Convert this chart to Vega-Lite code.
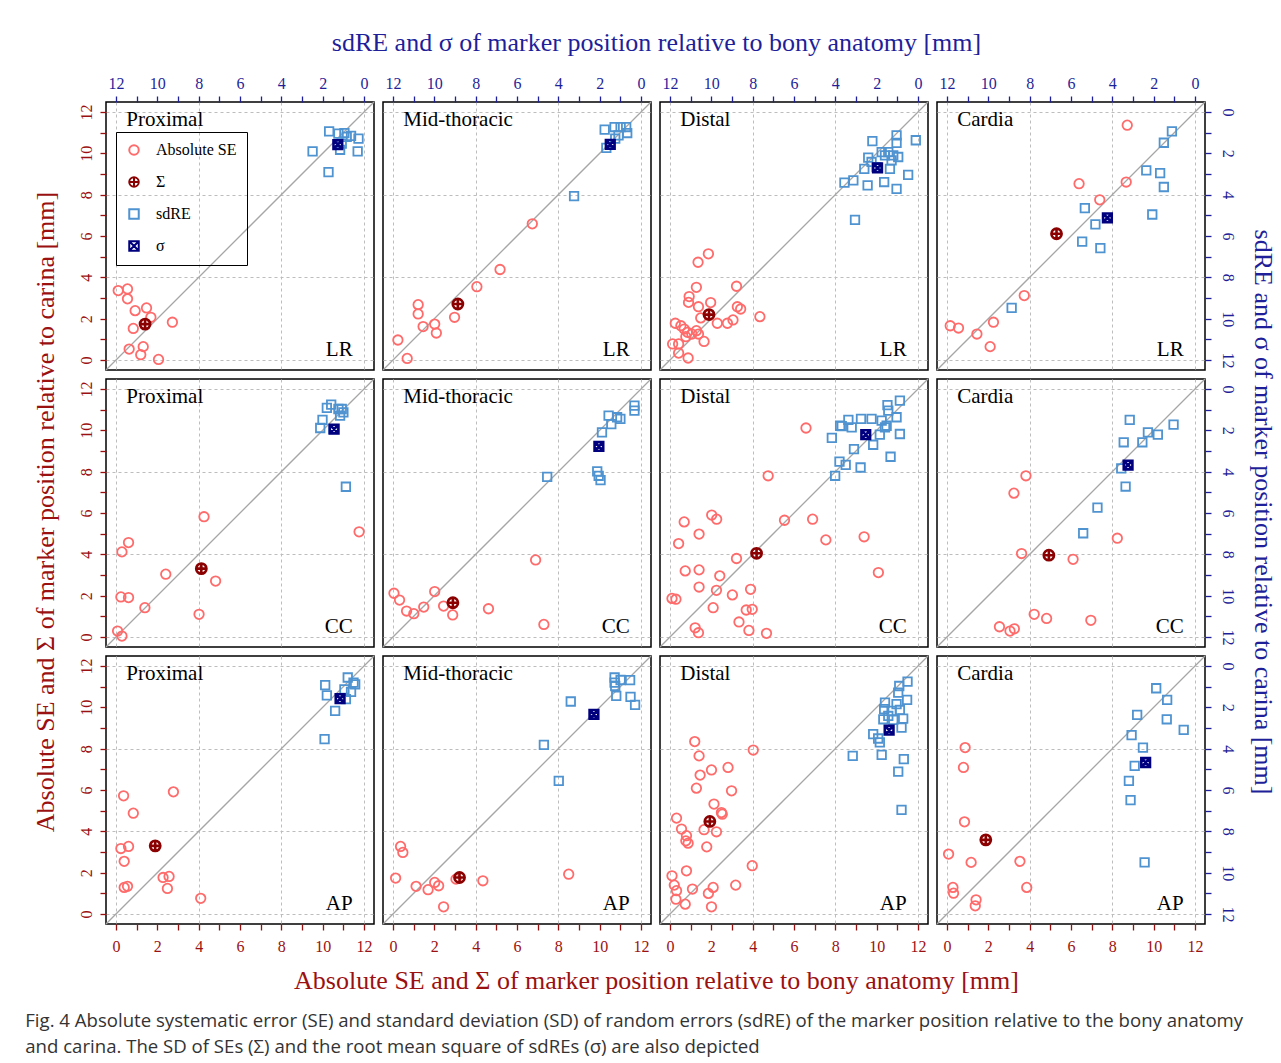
{
"$schema":"https://vega.github.io/schema/vega-lite/v6.json",
"padding":{"left":25,"top":30,"right":5,"bottom":5},
"config":{
 "font":"Liberation Serif",
 "view":{"stroke":"#000000","strokeWidth":1.5},
 "axis":{"domain":false,"grid":true,"gridColor":"#bdbdbd","gridDash":[3,3],"gridWidth":1,"labelFont":"Liberation Serif","labelFontSize":16,"tickSize":6,"tickWidth":1.3,"minExtent":0},
 "point":{"filled":false,"opacity":1},
 "rule":{"color":"#a6a6a6","strokeWidth":1.3},
 "text":{"font":"Liberation Serif","fontSize":21,"baseline":"middle","color":"#000000"},
 "legend":{"labelFont":"Liberation Serif","labelFontSize":16,"labelColor":"#000000","strokeColor":"#000000","padding":10,"rowPadding":14,"symbolSize":90,"symbolStrokeWidth":2,"labelOffset":14},
 "title":{"font":"Liberation Serif","fontSize":26,"fontWeight":"normal"},
 "concat":{"spacing":5}
},
"datasets":{"pts":[
{"dir":"LR","region":"Proximal","kind":"Absolute SE","x":0.11,"y":3.36},
{"dir":"LR","region":"Proximal","kind":"Absolute SE","x":0.56,"y":3.44},
{"dir":"LR","region":"Proximal","kind":"Absolute SE","x":0.56,"y":2.96},
{"dir":"LR","region":"Proximal","kind":"Absolute SE","x":0.93,"y":2.39},
{"dir":"LR","region":"Proximal","kind":"Absolute SE","x":1.48,"y":2.52},
{"dir":"LR","region":"Proximal","kind":"Absolute SE","x":1.69,"y":2.07},
{"dir":"LR","region":"Proximal","kind":"Absolute SE","x":0.84,"y":1.53},
{"dir":"LR","region":"Proximal","kind":"Absolute SE","x":2.73,"y":1.83},
{"dir":"LR","region":"Proximal","kind":"Absolute SE","x":0.64,"y":0.53},
{"dir":"LR","region":"Proximal","kind":"Absolute SE","x":1.32,"y":0.65},
{"dir":"LR","region":"Proximal","kind":"Absolute SE","x":1.2,"y":0.26},
{"dir":"LR","region":"Proximal","kind":"Absolute SE","x":2.06,"y":0.03},
{"dir":"LR","region":"Proximal","kind":"Σ","x":1.41,"y":1.74},
{"dir":"LR","region":"Proximal","kind":"sdRE","x":2.49,"y":1.91},
{"dir":"LR","region":"Proximal","kind":"sdRE","x":1.69,"y":0.94},
{"dir":"LR","region":"Proximal","kind":"sdRE","x":1.72,"y":2.91},
{"dir":"LR","region":"Proximal","kind":"sdRE","x":1.24,"y":1.05},
{"dir":"LR","region":"Proximal","kind":"sdRE","x":0.95,"y":1.02},
{"dir":"LR","region":"Proximal","kind":"sdRE","x":0.84,"y":1.21},
{"dir":"LR","region":"Proximal","kind":"sdRE","x":0.63,"y":1.16},
{"dir":"LR","region":"Proximal","kind":"sdRE","x":0.27,"y":1.29},
{"dir":"LR","region":"Proximal","kind":"sdRE","x":0.31,"y":1.91},
{"dir":"LR","region":"Proximal","kind":"sdRE","x":1.16,"y":1.83},
{"dir":"LR","region":"Proximal","kind":"sdRE","x":1.08,"y":1.53},
{"dir":"LR","region":"Proximal","kind":"σ","x":1.27,"y":1.58},
{"dir":"LR","region":"Mid-thoracic","kind":"Absolute SE","x":6.74,"y":6.59},
{"dir":"LR","region":"Mid-thoracic","kind":"Absolute SE","x":5.18,"y":4.38},
{"dir":"LR","region":"Mid-thoracic","kind":"Absolute SE","x":4.06,"y":3.55},
{"dir":"LR","region":"Mid-thoracic","kind":"Absolute SE","x":1.22,"y":2.68},
{"dir":"LR","region":"Mid-thoracic","kind":"Absolute SE","x":1.22,"y":2.23},
{"dir":"LR","region":"Mid-thoracic","kind":"Absolute SE","x":2.98,"y":2.07},
{"dir":"LR","region":"Mid-thoracic","kind":"Absolute SE","x":1.46,"y":1.62},
{"dir":"LR","region":"Mid-thoracic","kind":"Absolute SE","x":2.02,"y":1.74},
{"dir":"LR","region":"Mid-thoracic","kind":"Absolute SE","x":2.1,"y":1.31},
{"dir":"LR","region":"Mid-thoracic","kind":"Absolute SE","x":0.24,"y":0.97},
{"dir":"LR","region":"Mid-thoracic","kind":"Absolute SE","x":0.69,"y":0.08},
{"dir":"LR","region":"Mid-thoracic","kind":"Σ","x":3.14,"y":2.71},
{"dir":"LR","region":"Mid-thoracic","kind":"sdRE","x":3.24,"y":4.07},
{"dir":"LR","region":"Mid-thoracic","kind":"sdRE","x":1.76,"y":0.86},
{"dir":"LR","region":"Mid-thoracic","kind":"sdRE","x":1.28,"y":0.73},
{"dir":"LR","region":"Mid-thoracic","kind":"sdRE","x":0.99,"y":0.73},
{"dir":"LR","region":"Mid-thoracic","kind":"sdRE","x":0.72,"y":0.73},
{"dir":"LR","region":"Mid-thoracic","kind":"sdRE","x":0.67,"y":1.02},
{"dir":"LR","region":"Mid-thoracic","kind":"sdRE","x":1.09,"y":1.13},
{"dir":"LR","region":"Mid-thoracic","kind":"sdRE","x":1.25,"y":1.29},
{"dir":"LR","region":"Mid-thoracic","kind":"sdRE","x":1.68,"y":1.74},
{"dir":"LR","region":"Mid-thoracic","kind":"σ","x":1.49,"y":1.57},
{"dir":"LR","region":"Distal","kind":"Absolute SE","x":1.86,"y":5.14},
{"dir":"LR","region":"Distal","kind":"Absolute SE","x":1.36,"y":4.73},
{"dir":"LR","region":"Distal","kind":"Absolute SE","x":1.28,"y":3.52},
{"dir":"LR","region":"Distal","kind":"Absolute SE","x":0.93,"y":3.07},
{"dir":"LR","region":"Distal","kind":"Absolute SE","x":0.9,"y":2.79},
{"dir":"LR","region":"Distal","kind":"Absolute SE","x":1.38,"y":2.58},
{"dir":"LR","region":"Distal","kind":"Absolute SE","x":1.97,"y":2.78},
{"dir":"LR","region":"Distal","kind":"Absolute SE","x":3.22,"y":3.57},
{"dir":"LR","region":"Distal","kind":"Absolute SE","x":3.26,"y":2.58},
{"dir":"LR","region":"Distal","kind":"Absolute SE","x":3.42,"y":2.47},
{"dir":"LR","region":"Distal","kind":"Absolute SE","x":4.35,"y":2.1},
{"dir":"LR","region":"Distal","kind":"Absolute SE","x":1.49,"y":2.04},
{"dir":"LR","region":"Distal","kind":"Absolute SE","x":2.29,"y":1.78},
{"dir":"LR","region":"Distal","kind":"Absolute SE","x":2.78,"y":1.78},
{"dir":"LR","region":"Distal","kind":"Absolute SE","x":3.05,"y":1.94},
{"dir":"LR","region":"Distal","kind":"Absolute SE","x":0.26,"y":1.78},
{"dir":"LR","region":"Distal","kind":"Absolute SE","x":0.53,"y":1.66},
{"dir":"LR","region":"Distal","kind":"Absolute SE","x":0.69,"y":1.5},
{"dir":"LR","region":"Distal","kind":"Absolute SE","x":0.85,"y":1.34},
{"dir":"LR","region":"Distal","kind":"Absolute SE","x":1.06,"y":1.26},
{"dir":"LR","region":"Distal","kind":"Absolute SE","x":1.28,"y":1.42},
{"dir":"LR","region":"Distal","kind":"Absolute SE","x":1.38,"y":1.26},
{"dir":"LR","region":"Distal","kind":"Absolute SE","x":1.65,"y":0.9},
{"dir":"LR","region":"Distal","kind":"Absolute SE","x":0.13,"y":0.78},
{"dir":"LR","region":"Distal","kind":"Absolute SE","x":0.42,"y":0.78},
{"dir":"LR","region":"Distal","kind":"Absolute SE","x":0.42,"y":0.34},
{"dir":"LR","region":"Distal","kind":"Absolute SE","x":0.88,"y":0.1},
{"dir":"LR","region":"Distal","kind":"Absolute SE","x":0.77,"y":1.13},
{"dir":"LR","region":"Distal","kind":"Σ","x":1.89,"y":2.2},
{"dir":"LR","region":"Distal","kind":"sdRE","x":2.21,"y":1.41},
{"dir":"LR","region":"Distal","kind":"sdRE","x":1.04,"y":1.13},
{"dir":"LR","region":"Distal","kind":"sdRE","x":1.04,"y":1.5},
{"dir":"LR","region":"Distal","kind":"sdRE","x":0.11,"y":1.37},
{"dir":"LR","region":"Distal","kind":"sdRE","x":1.76,"y":1.94},
{"dir":"LR","region":"Distal","kind":"sdRE","x":1.44,"y":1.94},
{"dir":"LR","region":"Distal","kind":"sdRE","x":1.2,"y":2.1},
{"dir":"LR","region":"Distal","kind":"sdRE","x":0.96,"y":2.18},
{"dir":"LR","region":"Distal","kind":"sdRE","x":2.41,"y":2.21},
{"dir":"LR","region":"Distal","kind":"sdRE","x":2.25,"y":2.42},
{"dir":"LR","region":"Distal","kind":"sdRE","x":2.6,"y":2.75},
{"dir":"LR","region":"Distal","kind":"sdRE","x":2.01,"y":2.67},
{"dir":"LR","region":"Distal","kind":"sdRE","x":1.36,"y":2.75},
{"dir":"LR","region":"Distal","kind":"sdRE","x":0.48,"y":3.04},
{"dir":"LR","region":"Distal","kind":"sdRE","x":1.64,"y":3.39},
{"dir":"LR","region":"Distal","kind":"sdRE","x":2.44,"y":3.55},
{"dir":"LR","region":"Distal","kind":"sdRE","x":1.04,"y":3.72},
{"dir":"LR","region":"Distal","kind":"sdRE","x":3.13,"y":3.31},
{"dir":"LR","region":"Distal","kind":"sdRE","x":3.56,"y":3.42},
{"dir":"LR","region":"Distal","kind":"sdRE","x":3.05,"y":5.22},
{"dir":"LR","region":"Distal","kind":"sdRE","x":1.28,"y":2.34},
{"dir":"LR","region":"Distal","kind":"sdRE","x":1.6,"y":2.1},
{"dir":"LR","region":"Distal","kind":"σ","x":1.96,"y":2.71},
{"dir":"LR","region":"Cardia","kind":"Absolute SE","x":8.72,"y":11.36},
{"dir":"LR","region":"Cardia","kind":"Absolute SE","x":6.39,"y":8.53},
{"dir":"LR","region":"Cardia","kind":"Absolute SE","x":8.67,"y":8.61},
{"dir":"LR","region":"Cardia","kind":"Absolute SE","x":7.39,"y":7.75},
{"dir":"LR","region":"Cardia","kind":"Absolute SE","x":3.74,"y":3.12},
{"dir":"LR","region":"Cardia","kind":"Absolute SE","x":2.25,"y":1.83},
{"dir":"LR","region":"Cardia","kind":"Absolute SE","x":0.16,"y":1.66},
{"dir":"LR","region":"Cardia","kind":"Absolute SE","x":0.56,"y":1.55},
{"dir":"LR","region":"Cardia","kind":"Absolute SE","x":1.45,"y":1.26},
{"dir":"LR","region":"Cardia","kind":"Absolute SE","x":2.09,"y":0.65},
{"dir":"LR","region":"Cardia","kind":"Σ","x":5.3,"y":6.11},
{"dir":"LR","region":"Cardia","kind":"sdRE","x":1.12,"y":0.94},
{"dir":"LR","region":"Cardia","kind":"sdRE","x":1.51,"y":1.49},
{"dir":"LR","region":"Cardia","kind":"sdRE","x":2.36,"y":2.83},
{"dir":"LR","region":"Cardia","kind":"sdRE","x":1.69,"y":2.96},
{"dir":"LR","region":"Cardia","kind":"sdRE","x":1.51,"y":3.63},
{"dir":"LR","region":"Cardia","kind":"sdRE","x":2.07,"y":4.96},
{"dir":"LR","region":"Cardia","kind":"sdRE","x":5.33,"y":4.65},
{"dir":"LR","region":"Cardia","kind":"sdRE","x":4.82,"y":5.44},
{"dir":"LR","region":"Cardia","kind":"sdRE","x":5.46,"y":6.27},
{"dir":"LR","region":"Cardia","kind":"sdRE","x":4.58,"y":6.59},
{"dir":"LR","region":"Cardia","kind":"sdRE","x":8.87,"y":9.48},
{"dir":"LR","region":"Cardia","kind":"σ","x":4.24,"y":5.12},
{"dir":"CC","region":"Proximal","kind":"Absolute SE","x":4.26,"y":5.82},
{"dir":"CC","region":"Proximal","kind":"Absolute SE","x":11.76,"y":5.09},
{"dir":"CC","region":"Proximal","kind":"Absolute SE","x":0.61,"y":4.57},
{"dir":"CC","region":"Proximal","kind":"Absolute SE","x":0.29,"y":4.12},
{"dir":"CC","region":"Proximal","kind":"Absolute SE","x":2.41,"y":3.04},
{"dir":"CC","region":"Proximal","kind":"Absolute SE","x":4.82,"y":2.71},
{"dir":"CC","region":"Proximal","kind":"Absolute SE","x":0.24,"y":1.94},
{"dir":"CC","region":"Proximal","kind":"Absolute SE","x":0.61,"y":1.91},
{"dir":"CC","region":"Proximal","kind":"Absolute SE","x":1.4,"y":1.42},
{"dir":"CC","region":"Proximal","kind":"Absolute SE","x":4.02,"y":1.1},
{"dir":"CC","region":"Proximal","kind":"Absolute SE","x":0.08,"y":0.29},
{"dir":"CC","region":"Proximal","kind":"Absolute SE","x":0.29,"y":0.05},
{"dir":"CC","region":"Proximal","kind":"Σ","x":4.13,"y":3.31},
{"dir":"CC","region":"Proximal","kind":"sdRE","x":1.59,"y":0.76},
{"dir":"CC","region":"Proximal","kind":"sdRE","x":1.8,"y":0.92},
{"dir":"CC","region":"Proximal","kind":"sdRE","x":2.01,"y":1.5},
{"dir":"CC","region":"Proximal","kind":"sdRE","x":2.12,"y":1.89},
{"dir":"CC","region":"Proximal","kind":"sdRE","x":1.24,"y":0.97},
{"dir":"CC","region":"Proximal","kind":"sdRE","x":1.08,"y":0.97},
{"dir":"CC","region":"Proximal","kind":"sdRE","x":1.0,"y":1.13},
{"dir":"CC","region":"Proximal","kind":"sdRE","x":1.16,"y":1.29},
{"dir":"CC","region":"Proximal","kind":"sdRE","x":1.48,"y":1.94},
{"dir":"CC","region":"Proximal","kind":"sdRE","x":0.88,"y":4.73},
{"dir":"CC","region":"Proximal","kind":"σ","x":1.45,"y":1.94},
{"dir":"CC","region":"Mid-thoracic","kind":"Absolute SE","x":6.9,"y":3.73},
{"dir":"CC","region":"Mid-thoracic","kind":"Absolute SE","x":2.02,"y":2.2},
{"dir":"CC","region":"Mid-thoracic","kind":"Absolute SE","x":0.05,"y":2.12},
{"dir":"CC","region":"Mid-thoracic","kind":"Absolute SE","x":0.32,"y":1.79},
{"dir":"CC","region":"Mid-thoracic","kind":"Absolute SE","x":0.66,"y":1.26},
{"dir":"CC","region":"Mid-thoracic","kind":"Absolute SE","x":1.01,"y":1.13},
{"dir":"CC","region":"Mid-thoracic","kind":"Absolute SE","x":1.49,"y":1.45},
{"dir":"CC","region":"Mid-thoracic","kind":"Absolute SE","x":2.45,"y":1.5},
{"dir":"CC","region":"Mid-thoracic","kind":"Absolute SE","x":2.89,"y":1.07},
{"dir":"CC","region":"Mid-thoracic","kind":"Absolute SE","x":4.62,"y":1.37},
{"dir":"CC","region":"Mid-thoracic","kind":"Absolute SE","x":7.3,"y":0.61},
{"dir":"CC","region":"Mid-thoracic","kind":"Σ","x":2.9,"y":1.66},
{"dir":"CC","region":"Mid-thoracic","kind":"sdRE","x":0.32,"y":0.81},
{"dir":"CC","region":"Mid-thoracic","kind":"sdRE","x":0.32,"y":1.05},
{"dir":"CC","region":"Mid-thoracic","kind":"sdRE","x":1.57,"y":1.29},
{"dir":"CC","region":"Mid-thoracic","kind":"sdRE","x":1.16,"y":1.37},
{"dir":"CC","region":"Mid-thoracic","kind":"sdRE","x":1.0,"y":1.45},
{"dir":"CC","region":"Mid-thoracic","kind":"sdRE","x":1.44,"y":1.7},
{"dir":"CC","region":"Mid-thoracic","kind":"sdRE","x":1.89,"y":2.1},
{"dir":"CC","region":"Mid-thoracic","kind":"sdRE","x":4.54,"y":4.25},
{"dir":"CC","region":"Mid-thoracic","kind":"sdRE","x":2.12,"y":3.99},
{"dir":"CC","region":"Mid-thoracic","kind":"sdRE","x":2.05,"y":4.2},
{"dir":"CC","region":"Mid-thoracic","kind":"sdRE","x":1.96,"y":4.41},
{"dir":"CC","region":"Mid-thoracic","kind":"σ","x":2.04,"y":2.78},
{"dir":"CC","region":"Distal","kind":"Absolute SE","x":6.58,"y":10.11},
{"dir":"CC","region":"Distal","kind":"Absolute SE","x":4.75,"y":7.8},
{"dir":"CC","region":"Distal","kind":"Absolute SE","x":2.02,"y":5.9},
{"dir":"CC","region":"Distal","kind":"Absolute SE","x":2.26,"y":5.7},
{"dir":"CC","region":"Distal","kind":"Absolute SE","x":0.69,"y":5.57},
{"dir":"CC","region":"Distal","kind":"Absolute SE","x":5.54,"y":5.65},
{"dir":"CC","region":"Distal","kind":"Absolute SE","x":6.9,"y":5.7},
{"dir":"CC","region":"Distal","kind":"Absolute SE","x":1.41,"y":4.98},
{"dir":"CC","region":"Distal","kind":"Absolute SE","x":7.54,"y":4.7},
{"dir":"CC","region":"Distal","kind":"Absolute SE","x":9.39,"y":4.85},
{"dir":"CC","region":"Distal","kind":"Absolute SE","x":0.42,"y":4.52},
{"dir":"CC","region":"Distal","kind":"Absolute SE","x":3.22,"y":3.8},
{"dir":"CC","region":"Distal","kind":"Absolute SE","x":0.74,"y":3.2},
{"dir":"CC","region":"Distal","kind":"Absolute SE","x":1.41,"y":3.25},
{"dir":"CC","region":"Distal","kind":"Absolute SE","x":2.41,"y":2.96},
{"dir":"CC","region":"Distal","kind":"Absolute SE","x":10.08,"y":3.12},
{"dir":"CC","region":"Distal","kind":"Absolute SE","x":1.41,"y":2.42},
{"dir":"CC","region":"Distal","kind":"Absolute SE","x":2.25,"y":2.26},
{"dir":"CC","region":"Distal","kind":"Absolute SE","x":3.02,"y":2.04},
{"dir":"CC","region":"Distal","kind":"Absolute SE","x":3.9,"y":2.31},
{"dir":"CC","region":"Distal","kind":"Absolute SE","x":0.1,"y":1.87},
{"dir":"CC","region":"Distal","kind":"Absolute SE","x":0.29,"y":1.83},
{"dir":"CC","region":"Distal","kind":"Absolute SE","x":2.09,"y":1.42},
{"dir":"CC","region":"Distal","kind":"Absolute SE","x":3.69,"y":1.31},
{"dir":"CC","region":"Distal","kind":"Absolute SE","x":3.98,"y":1.34},
{"dir":"CC","region":"Distal","kind":"Absolute SE","x":3.34,"y":0.73},
{"dir":"CC","region":"Distal","kind":"Absolute SE","x":1.22,"y":0.45},
{"dir":"CC","region":"Distal","kind":"Absolute SE","x":1.38,"y":0.21},
{"dir":"CC","region":"Distal","kind":"Absolute SE","x":3.82,"y":0.32},
{"dir":"CC","region":"Distal","kind":"Absolute SE","x":4.67,"y":0.18},
{"dir":"CC","region":"Distal","kind":"Σ","x":4.19,"y":4.05},
{"dir":"CC","region":"Distal","kind":"sdRE","x":0.88,"y":0.57},
{"dir":"CC","region":"Distal","kind":"sdRE","x":1.48,"y":0.78},
{"dir":"CC","region":"Distal","kind":"sdRE","x":1.44,"y":1.05},
{"dir":"CC","region":"Distal","kind":"sdRE","x":1.04,"y":1.37},
{"dir":"CC","region":"Distal","kind":"sdRE","x":3.37,"y":1.5},
{"dir":"CC","region":"Distal","kind":"sdRE","x":2.76,"y":1.45},
{"dir":"CC","region":"Distal","kind":"sdRE","x":2.25,"y":1.45},
{"dir":"CC","region":"Distal","kind":"sdRE","x":1.76,"y":1.53},
{"dir":"CC","region":"Distal","kind":"sdRE","x":3.77,"y":1.78},
{"dir":"CC","region":"Distal","kind":"sdRE","x":3.21,"y":1.86},
{"dir":"CC","region":"Distal","kind":"sdRE","x":1.6,"y":1.86},
{"dir":"CC","region":"Distal","kind":"sdRE","x":1.85,"y":2.21},
{"dir":"CC","region":"Distal","kind":"sdRE","x":0.88,"y":2.18},
{"dir":"CC","region":"Distal","kind":"sdRE","x":4.17,"y":2.37},
{"dir":"CC","region":"Distal","kind":"sdRE","x":2.17,"y":2.7},
{"dir":"CC","region":"Distal","kind":"sdRE","x":3.1,"y":2.91},
{"dir":"CC","region":"Distal","kind":"sdRE","x":1.33,"y":3.28},
{"dir":"CC","region":"Distal","kind":"sdRE","x":3.8,"y":3.52},
{"dir":"CC","region":"Distal","kind":"sdRE","x":3.5,"y":3.67},
{"dir":"CC","region":"Distal","kind":"sdRE","x":2.78,"y":3.8},
{"dir":"CC","region":"Distal","kind":"sdRE","x":4.01,"y":4.2},
{"dir":"CC","region":"Distal","kind":"sdRE","x":1.52,"y":1.78},
{"dir":"CC","region":"Distal","kind":"sdRE","x":3.69,"y":1.8},
{"dir":"CC","region":"Distal","kind":"σ","x":2.53,"y":2.21},
{"dir":"CC","region":"Cardia","kind":"Absolute SE","x":3.82,"y":7.8},
{"dir":"CC","region":"Cardia","kind":"Absolute SE","x":3.24,"y":6.96},
{"dir":"CC","region":"Cardia","kind":"Absolute SE","x":8.24,"y":4.78},
{"dir":"CC","region":"Cardia","kind":"Absolute SE","x":3.61,"y":4.04},
{"dir":"CC","region":"Cardia","kind":"Absolute SE","x":6.1,"y":3.76},
{"dir":"CC","region":"Cardia","kind":"Absolute SE","x":4.22,"y":1.1},
{"dir":"CC","region":"Cardia","kind":"Absolute SE","x":4.82,"y":0.9},
{"dir":"CC","region":"Cardia","kind":"Absolute SE","x":6.96,"y":0.81},
{"dir":"CC","region":"Cardia","kind":"Absolute SE","x":2.54,"y":0.5},
{"dir":"CC","region":"Cardia","kind":"Absolute SE","x":3.05,"y":0.29},
{"dir":"CC","region":"Cardia","kind":"Absolute SE","x":3.26,"y":0.4},
{"dir":"CC","region":"Cardia","kind":"Σ","x":4.93,"y":3.96},
{"dir":"CC","region":"Cardia","kind":"sdRE","x":3.16,"y":1.5},
{"dir":"CC","region":"Cardia","kind":"sdRE","x":1.04,"y":1.73},
{"dir":"CC","region":"Cardia","kind":"sdRE","x":2.28,"y":2.1},
{"dir":"CC","region":"Cardia","kind":"sdRE","x":1.8,"y":2.21},
{"dir":"CC","region":"Cardia","kind":"sdRE","x":3.45,"y":2.58},
{"dir":"CC","region":"Cardia","kind":"sdRE","x":2.55,"y":2.58},
{"dir":"CC","region":"Cardia","kind":"sdRE","x":3.57,"y":3.84},
{"dir":"CC","region":"Cardia","kind":"sdRE","x":3.36,"y":4.72},
{"dir":"CC","region":"Cardia","kind":"sdRE","x":4.72,"y":5.74},
{"dir":"CC","region":"Cardia","kind":"sdRE","x":5.41,"y":6.98},
{"dir":"CC","region":"Cardia","kind":"σ","x":3.24,"y":3.68},
{"dir":"AP","region":"Proximal","kind":"Absolute SE","x":0.37,"y":5.72},
{"dir":"AP","region":"Proximal","kind":"Absolute SE","x":2.78,"y":5.91},
{"dir":"AP","region":"Proximal","kind":"Absolute SE","x":0.84,"y":4.88},
{"dir":"AP","region":"Proximal","kind":"Absolute SE","x":0.24,"y":3.17},
{"dir":"AP","region":"Proximal","kind":"Absolute SE","x":0.61,"y":3.27},
{"dir":"AP","region":"Proximal","kind":"Absolute SE","x":0.4,"y":2.55},
{"dir":"AP","region":"Proximal","kind":"Absolute SE","x":2.28,"y":1.77},
{"dir":"AP","region":"Proximal","kind":"Absolute SE","x":2.57,"y":1.82},
{"dir":"AP","region":"Proximal","kind":"Absolute SE","x":2.49,"y":1.24},
{"dir":"AP","region":"Proximal","kind":"Absolute SE","x":0.4,"y":1.29},
{"dir":"AP","region":"Proximal","kind":"Absolute SE","x":0.56,"y":1.34},
{"dir":"AP","region":"Proximal","kind":"Absolute SE","x":4.1,"y":0.76},
{"dir":"AP","region":"Proximal","kind":"Σ","x":1.9,"y":3.3},
{"dir":"AP","region":"Proximal","kind":"sdRE","x":1.88,"y":0.93},
{"dir":"AP","region":"Proximal","kind":"sdRE","x":1.8,"y":1.42},
{"dir":"AP","region":"Proximal","kind":"sdRE","x":0.79,"y":0.56},
{"dir":"AP","region":"Proximal","kind":"sdRE","x":0.51,"y":0.81},
{"dir":"AP","region":"Proximal","kind":"sdRE","x":0.43,"y":0.89},
{"dir":"AP","region":"Proximal","kind":"sdRE","x":0.63,"y":1.26},
{"dir":"AP","region":"Proximal","kind":"sdRE","x":0.95,"y":1.13},
{"dir":"AP","region":"Proximal","kind":"sdRE","x":0.88,"y":1.61},
{"dir":"AP","region":"Proximal","kind":"sdRE","x":1.4,"y":2.17},
{"dir":"AP","region":"Proximal","kind":"sdRE","x":1.91,"y":3.54},
{"dir":"AP","region":"Proximal","kind":"σ","x":1.16,"y":1.58},
{"dir":"AP","region":"Mid-thoracic","kind":"Absolute SE","x":0.37,"y":3.27},
{"dir":"AP","region":"Mid-thoracic","kind":"Absolute SE","x":0.48,"y":2.98},
{"dir":"AP","region":"Mid-thoracic","kind":"Absolute SE","x":0.13,"y":1.74},
{"dir":"AP","region":"Mid-thoracic","kind":"Absolute SE","x":1.12,"y":1.34},
{"dir":"AP","region":"Mid-thoracic","kind":"Absolute SE","x":1.7,"y":1.18},
{"dir":"AP","region":"Mid-thoracic","kind":"Absolute SE","x":2.02,"y":1.53},
{"dir":"AP","region":"Mid-thoracic","kind":"Absolute SE","x":2.21,"y":1.37},
{"dir":"AP","region":"Mid-thoracic","kind":"Absolute SE","x":3.05,"y":1.69},
{"dir":"AP","region":"Mid-thoracic","kind":"Absolute SE","x":4.35,"y":1.61},
{"dir":"AP","region":"Mid-thoracic","kind":"Absolute SE","x":8.5,"y":1.93},
{"dir":"AP","region":"Mid-thoracic","kind":"Absolute SE","x":2.45,"y":0.35},
{"dir":"AP","region":"Mid-thoracic","kind":"Σ","x":3.22,"y":1.77},
{"dir":"AP","region":"Mid-thoracic","kind":"sdRE","x":1.28,"y":0.56},
{"dir":"AP","region":"Mid-thoracic","kind":"sdRE","x":1.28,"y":0.81},
{"dir":"AP","region":"Mid-thoracic","kind":"sdRE","x":1.25,"y":0.97},
{"dir":"AP","region":"Mid-thoracic","kind":"sdRE","x":0.99,"y":0.68},
{"dir":"AP","region":"Mid-thoracic","kind":"sdRE","x":0.53,"y":0.69},
{"dir":"AP","region":"Mid-thoracic","kind":"sdRE","x":1.2,"y":1.45},
{"dir":"AP","region":"Mid-thoracic","kind":"sdRE","x":0.51,"y":1.5},
{"dir":"AP","region":"Mid-thoracic","kind":"sdRE","x":0.29,"y":1.88},
{"dir":"AP","region":"Mid-thoracic","kind":"sdRE","x":3.4,"y":1.72},
{"dir":"AP","region":"Mid-thoracic","kind":"sdRE","x":4.7,"y":3.82},
{"dir":"AP","region":"Mid-thoracic","kind":"sdRE","x":3.98,"y":5.56},
{"dir":"AP","region":"Mid-thoracic","kind":"σ","x":2.28,"y":2.34},
{"dir":"AP","region":"Distal","kind":"Absolute SE","x":1.2,"y":8.34},
{"dir":"AP","region":"Distal","kind":"Absolute SE","x":4.03,"y":7.93},
{"dir":"AP","region":"Distal","kind":"Absolute SE","x":1.41,"y":7.65},
{"dir":"AP","region":"Distal","kind":"Absolute SE","x":2.01,"y":6.97},
{"dir":"AP","region":"Distal","kind":"Absolute SE","x":2.81,"y":7.09},
{"dir":"AP","region":"Distal","kind":"Absolute SE","x":1.46,"y":6.72},
{"dir":"AP","region":"Distal","kind":"Absolute SE","x":1.28,"y":6.09},
{"dir":"AP","region":"Distal","kind":"Absolute SE","x":2.98,"y":5.96},
{"dir":"AP","region":"Distal","kind":"Absolute SE","x":2.13,"y":5.32},
{"dir":"AP","region":"Distal","kind":"Absolute SE","x":2.49,"y":4.91},
{"dir":"AP","region":"Distal","kind":"Absolute SE","x":2.53,"y":4.83},
{"dir":"AP","region":"Distal","kind":"Absolute SE","x":0.32,"y":4.64},
{"dir":"AP","region":"Distal","kind":"Absolute SE","x":0.56,"y":4.11},
{"dir":"AP","region":"Distal","kind":"Absolute SE","x":0.8,"y":3.79},
{"dir":"AP","region":"Distal","kind":"Absolute SE","x":0.77,"y":3.54},
{"dir":"AP","region":"Distal","kind":"Absolute SE","x":0.88,"y":3.43},
{"dir":"AP","region":"Distal","kind":"Absolute SE","x":1.65,"y":4.08},
{"dir":"AP","region":"Distal","kind":"Absolute SE","x":2.25,"y":3.98},
{"dir":"AP","region":"Distal","kind":"Absolute SE","x":1.78,"y":3.25},
{"dir":"AP","region":"Distal","kind":"Absolute SE","x":3.98,"y":2.34},
{"dir":"AP","region":"Distal","kind":"Absolute SE","x":0.8,"y":2.09},
{"dir":"AP","region":"Distal","kind":"Absolute SE","x":0.1,"y":1.85},
{"dir":"AP","region":"Distal","kind":"Absolute SE","x":0.21,"y":1.4},
{"dir":"AP","region":"Distal","kind":"Absolute SE","x":0.32,"y":1.13},
{"dir":"AP","region":"Distal","kind":"Absolute SE","x":0.29,"y":0.72},
{"dir":"AP","region":"Distal","kind":"Absolute SE","x":1.09,"y":1.21},
{"dir":"AP","region":"Distal","kind":"Absolute SE","x":0.74,"y":0.48},
{"dir":"AP","region":"Distal","kind":"Absolute SE","x":2.09,"y":1.29},
{"dir":"AP","region":"Distal","kind":"Absolute SE","x":1.86,"y":1.0},
{"dir":"AP","region":"Distal","kind":"Absolute SE","x":3.18,"y":1.4},
{"dir":"AP","region":"Distal","kind":"Absolute SE","x":2.01,"y":0.35},
{"dir":"AP","region":"Distal","kind":"Σ","x":1.93,"y":4.48},
{"dir":"AP","region":"Distal","kind":"sdRE","x":0.51,"y":0.76},
{"dir":"AP","region":"Distal","kind":"sdRE","x":0.91,"y":0.97},
{"dir":"AP","region":"Distal","kind":"sdRE","x":0.96,"y":1.29},
{"dir":"AP","region":"Distal","kind":"sdRE","x":0.53,"y":1.64},
{"dir":"AP","region":"Distal","kind":"sdRE","x":1.6,"y":1.77},
{"dir":"AP","region":"Distal","kind":"sdRE","x":1.04,"y":1.85},
{"dir":"AP","region":"Distal","kind":"sdRE","x":1.64,"y":2.09},
{"dir":"AP","region":"Distal","kind":"sdRE","x":1.28,"y":2.17},
{"dir":"AP","region":"Distal","kind":"sdRE","x":0.88,"y":2.13},
{"dir":"AP","region":"Distal","kind":"sdRE","x":0.72,"y":2.55},
{"dir":"AP","region":"Distal","kind":"sdRE","x":1.68,"y":2.58},
{"dir":"AP","region":"Distal","kind":"sdRE","x":1.2,"y":2.61},
{"dir":"AP","region":"Distal","kind":"sdRE","x":0.8,"y":2.98},
{"dir":"AP","region":"Distal","kind":"sdRE","x":2.17,"y":3.3},
{"dir":"AP","region":"Distal","kind":"sdRE","x":1.93,"y":3.51},
{"dir":"AP","region":"Distal","kind":"sdRE","x":1.85,"y":3.7},
{"dir":"AP","region":"Distal","kind":"sdRE","x":1.76,"y":4.3},
{"dir":"AP","region":"Distal","kind":"sdRE","x":3.16,"y":4.35},
{"dir":"AP","region":"Distal","kind":"sdRE","x":0.69,"y":4.51},
{"dir":"AP","region":"Distal","kind":"sdRE","x":0.96,"y":5.11},
{"dir":"AP","region":"Distal","kind":"sdRE","x":0.8,"y":6.96},
{"dir":"AP","region":"Distal","kind":"sdRE","x":1.44,"y":2.42},
{"dir":"AP","region":"Distal","kind":"σ","x":1.4,"y":3.11},
{"dir":"AP","region":"Cardia","kind":"Absolute SE","x":0.88,"y":8.05},
{"dir":"AP","region":"Cardia","kind":"Absolute SE","x":0.8,"y":7.09},
{"dir":"AP","region":"Cardia","kind":"Absolute SE","x":0.85,"y":4.46},
{"dir":"AP","region":"Cardia","kind":"Absolute SE","x":0.08,"y":2.9},
{"dir":"AP","region":"Cardia","kind":"Absolute SE","x":1.17,"y":2.5},
{"dir":"AP","region":"Cardia","kind":"Absolute SE","x":3.53,"y":2.55},
{"dir":"AP","region":"Cardia","kind":"Absolute SE","x":3.86,"y":1.29},
{"dir":"AP","region":"Cardia","kind":"Absolute SE","x":0.29,"y":1.29},
{"dir":"AP","region":"Cardia","kind":"Absolute SE","x":0.32,"y":1.01},
{"dir":"AP","region":"Cardia","kind":"Absolute SE","x":1.41,"y":0.69},
{"dir":"AP","region":"Cardia","kind":"Absolute SE","x":1.37,"y":0.4},
{"dir":"AP","region":"Cardia","kind":"Σ","x":1.88,"y":3.59},
{"dir":"AP","region":"Cardia","kind":"sdRE","x":1.88,"y":1.08},
{"dir":"AP","region":"Cardia","kind":"sdRE","x":1.35,"y":1.64},
{"dir":"AP","region":"Cardia","kind":"sdRE","x":1.37,"y":2.58},
{"dir":"AP","region":"Cardia","kind":"sdRE","x":0.55,"y":3.09},
{"dir":"AP","region":"Cardia","kind":"sdRE","x":2.8,"y":2.37},
{"dir":"AP","region":"Cardia","kind":"sdRE","x":3.07,"y":3.35},
{"dir":"AP","region":"Cardia","kind":"sdRE","x":2.52,"y":3.95},
{"dir":"AP","region":"Cardia","kind":"sdRE","x":2.92,"y":4.83},
{"dir":"AP","region":"Cardia","kind":"sdRE","x":3.2,"y":5.56},
{"dir":"AP","region":"Cardia","kind":"sdRE","x":3.12,"y":6.49},
{"dir":"AP","region":"Cardia","kind":"sdRE","x":2.44,"y":9.5},
{"dir":"AP","region":"Cardia","kind":"σ","x":2.39,"y":4.67}
]},
"data":{"name":"pts"},
"title":{"text":["Fig. 4 Absolute systematic error (SE) and standard deviation (SD) of random errors (sdRE) of the marker position relative to the bony anatomy","and carina. The SD of SEs (Σ) and the root mean square of sdREs (σ) are also depicted"],"orient":"bottom","anchor":"start","font":"Open Sans","fontSize":18.6,"fontWeight":"normal","color":"#333333","lineHeight":26,"offset":18,"dx":-8},
"resolve":{"scale":{"color":"independent","shape":"independent"}},
"vconcat":[{
"title":{"text":"sdRE and σ of marker position relative to carina [mm]","orient":"right","anchor":"middle","color":"#1f1f99","offset":14},
"resolve":{"scale":{"color":"independent","shape":"independent"}},
"hconcat":[{
"title":{"text":"Absolute SE and Σ of marker position relative to carina [mm]","orient":"left","anchor":"middle","color":"#9b1111","offset":18},
"resolve":{"scale":{"color":"independent","shape":"independent"}},
"vconcat":[
{"title":{"text":"sdRE and σ of marker position relative to bony anatomy [mm]","orient":"top","anchor":"middle","color":"#1f1f99","offset":18},
"resolve":{"scale":{"color":"independent","shape":"independent"}},
"hconcat":[
{"width":268,"height":268,"transform":[{"filter":{"and":[{"field":"dir","equal":"LR"},{"field":"region","equal":"Proximal"}]}}],"resolve":{"scale":{"x":"independent","y":"independent"}},
"layer":[
{"transform":[{"aggregate":[{"op":"count","as":"n"}],"groupby":["dir","region"]}],"mark":"rule","encoding":{"x":{"datum":-0.48,"type":"quantitative","scale":{"domain":[-0.48,12.48],"nice":false,"zero":false},"axis":null},"y":{"datum":-0.48,"type":"quantitative","scale":{"domain":[-0.48,12.48],"nice":false,"zero":false},"axis":null},"x2":{"datum":12.48},"y2":{"datum":12.48}}},
{"transform":[{"filter":{"field":"kind","oneOf":["Absolute SE","Σ"]}}],"mark":"point","encoding":{"x":{"field":"x","type":"quantitative","scale":{"domain":[-0.48,12.48],"nice":false,"zero":false},"axis":{"orient":"bottom","title":null,"values":[0,4,8,12],"labels":false,"ticks":false,"grid":true}},"y":{"field":"y","type":"quantitative","scale":{"domain":[-0.48,12.48],"nice":false,"zero":false},"axis":{"orient":"left","title":null,"values":[0,1,2,3,4,5,6,7,8,9,10,11,12],"labelExpr":"datum.value % 2 == 0 ? datum.label : ''","labelAngle":270,"labelColor":"#9b1111","tickColor":"#9b1111","labelPadding":6,"grid":true,"gridOpacity":{"condition":{"test":"datum.value % 4 == 0","value":1},"value":0}}},"color":{"field":"kind","type":"nominal","scale":{"domain":["Absolute SE","Σ","sdRE","σ"],"range":["#ff6b6b","#8b0000","#4f93d0","#00007f"]},"legend":{"orient":"none","legendX":10,"legendY":30,"title":null}},"shape":{"field":"kind","type":"nominal","scale":{"domain":["Absolute SE","Σ","sdRE","σ"],"range":["circle","M-1,0A1,1 0 1,1 1,0A1,1 0 1,1 -1,0ZM-1,0L1,0M0,-1L0,1","square","M-1,-1L1,-1L1,1L-1,1ZM-1,-1L1,1M1,-1L-1,1"]},"legend":{"orient":"none","legendX":10,"legendY":30,"title":null}},"size":{"condition":{"test":"datum.kind == 'Σ'","value":105},"value":90},"strokeWidth":{"condition":{"test":"datum.kind == 'Σ'","value":2.6},"value":1.8}}},
{"transform":[{"filter":{"field":"kind","oneOf":["sdRE","σ"]}}],"mark":"point","encoding":{"x":{"field":"x","type":"quantitative","scale":{"domain":[-0.48,12.48],"nice":false,"zero":false,"reverse":true},"axis":{"orient":"top","title":null,"values":[0,1,2,3,4,5,6,7,8,9,10,11,12],"labelExpr":"datum.value % 2 == 0 ? datum.label : ''","labelColor":"#1f1f99","tickColor":"#1f1f99","labelPadding":5,"grid":false}},"y":{"field":"y","type":"quantitative","scale":{"domain":[-0.48,12.48],"nice":false,"zero":false,"reverse":true},"axis":null},"color":{"field":"kind","type":"nominal","scale":{"domain":["Absolute SE","Σ","sdRE","σ"],"range":["#ff6b6b","#8b0000","#4f93d0","#00007f"]},"legend":{"orient":"none","legendX":10,"legendY":30,"title":null}},"shape":{"field":"kind","type":"nominal","scale":{"domain":["Absolute SE","Σ","sdRE","σ"],"range":["circle","M-1,0A1,1 0 1,1 1,0A1,1 0 1,1 -1,0ZM-1,0L1,0M0,-1L0,1","square","M-1,-1L1,-1L1,1L-1,1ZM-1,-1L1,1M1,-1L-1,1"]},"legend":{"orient":"none","legendX":10,"legendY":30,"title":null}},"size":{"condition":{"test":"datum.kind == 'σ'","value":75},"value":72},"strokeWidth":{"condition":{"test":"datum.kind == 'σ'","value":2.6},"value":1.8}}},
{"transform":[{"aggregate":[{"op":"count","as":"n"}],"groupby":["dir","region"]}],"mark":{"type":"text","align":"left"},"encoding":{"x":{"datum":0.5,"type":"quantitative","scale":{"domain":[-0.48,12.48],"nice":false,"zero":false},"axis":null},"y":{"datum":11.6,"type":"quantitative","scale":{"domain":[-0.48,12.48],"nice":false,"zero":false},"axis":null},"text":{"field":"region"}}},
{"transform":[{"aggregate":[{"op":"count","as":"n"}],"groupby":["dir","region"]}],"mark":{"type":"text","align":"right"},"encoding":{"x":{"datum":11.45,"type":"quantitative","scale":{"domain":[-0.48,12.48],"nice":false,"zero":false},"axis":null},"y":{"datum":0.5,"type":"quantitative","scale":{"domain":[-0.48,12.48],"nice":false,"zero":false},"axis":null},"text":{"field":"dir"}}}
]},
{"width":268,"height":268,"transform":[{"filter":{"and":[{"field":"dir","equal":"LR"},{"field":"region","equal":"Mid-thoracic"}]}}],"resolve":{"scale":{"x":"independent","y":"independent"}},
"layer":[
{"transform":[{"aggregate":[{"op":"count","as":"n"}],"groupby":["dir","region"]}],"mark":"rule","encoding":{"x":{"datum":-0.48,"type":"quantitative","scale":{"domain":[-0.48,12.48],"nice":false,"zero":false},"axis":null},"y":{"datum":-0.48,"type":"quantitative","scale":{"domain":[-0.48,12.48],"nice":false,"zero":false},"axis":null},"x2":{"datum":12.48},"y2":{"datum":12.48}}},
{"transform":[{"filter":{"field":"kind","oneOf":["Absolute SE","Σ"]}}],"mark":"point","encoding":{"x":{"field":"x","type":"quantitative","scale":{"domain":[-0.48,12.48],"nice":false,"zero":false},"axis":{"orient":"bottom","title":null,"values":[0,4,8,12],"labels":false,"ticks":false,"grid":true}},"y":{"field":"y","type":"quantitative","scale":{"domain":[-0.48,12.48],"nice":false,"zero":false},"axis":{"orient":"left","title":null,"values":[0,4,8,12],"labels":false,"ticks":false,"grid":true}},"color":{"field":"kind","type":"nominal","scale":{"domain":["Absolute SE","Σ","sdRE","σ"],"range":["#ff6b6b","#8b0000","#4f93d0","#00007f"]},"legend":null},"shape":{"field":"kind","type":"nominal","scale":{"domain":["Absolute SE","Σ","sdRE","σ"],"range":["circle","M-1,0A1,1 0 1,1 1,0A1,1 0 1,1 -1,0ZM-1,0L1,0M0,-1L0,1","square","M-1,-1L1,-1L1,1L-1,1ZM-1,-1L1,1M1,-1L-1,1"]},"legend":null},"size":{"condition":{"test":"datum.kind == 'Σ'","value":105},"value":90},"strokeWidth":{"condition":{"test":"datum.kind == 'Σ'","value":2.6},"value":1.8}}},
{"transform":[{"filter":{"field":"kind","oneOf":["sdRE","σ"]}}],"mark":"point","encoding":{"x":{"field":"x","type":"quantitative","scale":{"domain":[-0.48,12.48],"nice":false,"zero":false,"reverse":true},"axis":{"orient":"top","title":null,"values":[0,1,2,3,4,5,6,7,8,9,10,11,12],"labelExpr":"datum.value % 2 == 0 ? datum.label : ''","labelColor":"#1f1f99","tickColor":"#1f1f99","labelPadding":5,"grid":false}},"y":{"field":"y","type":"quantitative","scale":{"domain":[-0.48,12.48],"nice":false,"zero":false,"reverse":true},"axis":null},"color":{"field":"kind","type":"nominal","scale":{"domain":["Absolute SE","Σ","sdRE","σ"],"range":["#ff6b6b","#8b0000","#4f93d0","#00007f"]},"legend":null},"shape":{"field":"kind","type":"nominal","scale":{"domain":["Absolute SE","Σ","sdRE","σ"],"range":["circle","M-1,0A1,1 0 1,1 1,0A1,1 0 1,1 -1,0ZM-1,0L1,0M0,-1L0,1","square","M-1,-1L1,-1L1,1L-1,1ZM-1,-1L1,1M1,-1L-1,1"]},"legend":null},"size":{"condition":{"test":"datum.kind == 'σ'","value":75},"value":72},"strokeWidth":{"condition":{"test":"datum.kind == 'σ'","value":2.6},"value":1.8}}},
{"transform":[{"aggregate":[{"op":"count","as":"n"}],"groupby":["dir","region"]}],"mark":{"type":"text","align":"left"},"encoding":{"x":{"datum":0.5,"type":"quantitative","scale":{"domain":[-0.48,12.48],"nice":false,"zero":false},"axis":null},"y":{"datum":11.6,"type":"quantitative","scale":{"domain":[-0.48,12.48],"nice":false,"zero":false},"axis":null},"text":{"field":"region"}}},
{"transform":[{"aggregate":[{"op":"count","as":"n"}],"groupby":["dir","region"]}],"mark":{"type":"text","align":"right"},"encoding":{"x":{"datum":11.45,"type":"quantitative","scale":{"domain":[-0.48,12.48],"nice":false,"zero":false},"axis":null},"y":{"datum":0.5,"type":"quantitative","scale":{"domain":[-0.48,12.48],"nice":false,"zero":false},"axis":null},"text":{"field":"dir"}}}
]},
{"width":268,"height":268,"transform":[{"filter":{"and":[{"field":"dir","equal":"LR"},{"field":"region","equal":"Distal"}]}}],"resolve":{"scale":{"x":"independent","y":"independent"}},
"layer":[
{"transform":[{"aggregate":[{"op":"count","as":"n"}],"groupby":["dir","region"]}],"mark":"rule","encoding":{"x":{"datum":-0.48,"type":"quantitative","scale":{"domain":[-0.48,12.48],"nice":false,"zero":false},"axis":null},"y":{"datum":-0.48,"type":"quantitative","scale":{"domain":[-0.48,12.48],"nice":false,"zero":false},"axis":null},"x2":{"datum":12.48},"y2":{"datum":12.48}}},
{"transform":[{"filter":{"field":"kind","oneOf":["Absolute SE","Σ"]}}],"mark":"point","encoding":{"x":{"field":"x","type":"quantitative","scale":{"domain":[-0.48,12.48],"nice":false,"zero":false},"axis":{"orient":"bottom","title":null,"values":[0,4,8,12],"labels":false,"ticks":false,"grid":true}},"y":{"field":"y","type":"quantitative","scale":{"domain":[-0.48,12.48],"nice":false,"zero":false},"axis":{"orient":"left","title":null,"values":[0,4,8,12],"labels":false,"ticks":false,"grid":true}},"color":{"field":"kind","type":"nominal","scale":{"domain":["Absolute SE","Σ","sdRE","σ"],"range":["#ff6b6b","#8b0000","#4f93d0","#00007f"]},"legend":null},"shape":{"field":"kind","type":"nominal","scale":{"domain":["Absolute SE","Σ","sdRE","σ"],"range":["circle","M-1,0A1,1 0 1,1 1,0A1,1 0 1,1 -1,0ZM-1,0L1,0M0,-1L0,1","square","M-1,-1L1,-1L1,1L-1,1ZM-1,-1L1,1M1,-1L-1,1"]},"legend":null},"size":{"condition":{"test":"datum.kind == 'Σ'","value":105},"value":90},"strokeWidth":{"condition":{"test":"datum.kind == 'Σ'","value":2.6},"value":1.8}}},
{"transform":[{"filter":{"field":"kind","oneOf":["sdRE","σ"]}}],"mark":"point","encoding":{"x":{"field":"x","type":"quantitative","scale":{"domain":[-0.48,12.48],"nice":false,"zero":false,"reverse":true},"axis":{"orient":"top","title":null,"values":[0,1,2,3,4,5,6,7,8,9,10,11,12],"labelExpr":"datum.value % 2 == 0 ? datum.label : ''","labelColor":"#1f1f99","tickColor":"#1f1f99","labelPadding":5,"grid":false}},"y":{"field":"y","type":"quantitative","scale":{"domain":[-0.48,12.48],"nice":false,"zero":false,"reverse":true},"axis":null},"color":{"field":"kind","type":"nominal","scale":{"domain":["Absolute SE","Σ","sdRE","σ"],"range":["#ff6b6b","#8b0000","#4f93d0","#00007f"]},"legend":null},"shape":{"field":"kind","type":"nominal","scale":{"domain":["Absolute SE","Σ","sdRE","σ"],"range":["circle","M-1,0A1,1 0 1,1 1,0A1,1 0 1,1 -1,0ZM-1,0L1,0M0,-1L0,1","square","M-1,-1L1,-1L1,1L-1,1ZM-1,-1L1,1M1,-1L-1,1"]},"legend":null},"size":{"condition":{"test":"datum.kind == 'σ'","value":75},"value":72},"strokeWidth":{"condition":{"test":"datum.kind == 'σ'","value":2.6},"value":1.8}}},
{"transform":[{"aggregate":[{"op":"count","as":"n"}],"groupby":["dir","region"]}],"mark":{"type":"text","align":"left"},"encoding":{"x":{"datum":0.5,"type":"quantitative","scale":{"domain":[-0.48,12.48],"nice":false,"zero":false},"axis":null},"y":{"datum":11.6,"type":"quantitative","scale":{"domain":[-0.48,12.48],"nice":false,"zero":false},"axis":null},"text":{"field":"region"}}},
{"transform":[{"aggregate":[{"op":"count","as":"n"}],"groupby":["dir","region"]}],"mark":{"type":"text","align":"right"},"encoding":{"x":{"datum":11.45,"type":"quantitative","scale":{"domain":[-0.48,12.48],"nice":false,"zero":false},"axis":null},"y":{"datum":0.5,"type":"quantitative","scale":{"domain":[-0.48,12.48],"nice":false,"zero":false},"axis":null},"text":{"field":"dir"}}}
]},
{"width":268,"height":268,"transform":[{"filter":{"and":[{"field":"dir","equal":"LR"},{"field":"region","equal":"Cardia"}]}}],"resolve":{"scale":{"x":"independent","y":"independent"}},
"layer":[
{"transform":[{"aggregate":[{"op":"count","as":"n"}],"groupby":["dir","region"]}],"mark":"rule","encoding":{"x":{"datum":-0.48,"type":"quantitative","scale":{"domain":[-0.48,12.48],"nice":false,"zero":false},"axis":null},"y":{"datum":-0.48,"type":"quantitative","scale":{"domain":[-0.48,12.48],"nice":false,"zero":false},"axis":null},"x2":{"datum":12.48},"y2":{"datum":12.48}}},
{"transform":[{"filter":{"field":"kind","oneOf":["Absolute SE","Σ"]}}],"mark":"point","encoding":{"x":{"field":"x","type":"quantitative","scale":{"domain":[-0.48,12.48],"nice":false,"zero":false},"axis":{"orient":"bottom","title":null,"values":[0,4,8,12],"labels":false,"ticks":false,"grid":true}},"y":{"field":"y","type":"quantitative","scale":{"domain":[-0.48,12.48],"nice":false,"zero":false},"axis":{"orient":"left","title":null,"values":[0,4,8,12],"labels":false,"ticks":false,"grid":true}},"color":{"field":"kind","type":"nominal","scale":{"domain":["Absolute SE","Σ","sdRE","σ"],"range":["#ff6b6b","#8b0000","#4f93d0","#00007f"]},"legend":null},"shape":{"field":"kind","type":"nominal","scale":{"domain":["Absolute SE","Σ","sdRE","σ"],"range":["circle","M-1,0A1,1 0 1,1 1,0A1,1 0 1,1 -1,0ZM-1,0L1,0M0,-1L0,1","square","M-1,-1L1,-1L1,1L-1,1ZM-1,-1L1,1M1,-1L-1,1"]},"legend":null},"size":{"condition":{"test":"datum.kind == 'Σ'","value":105},"value":90},"strokeWidth":{"condition":{"test":"datum.kind == 'Σ'","value":2.6},"value":1.8}}},
{"transform":[{"filter":{"field":"kind","oneOf":["sdRE","σ"]}}],"mark":"point","encoding":{"x":{"field":"x","type":"quantitative","scale":{"domain":[-0.48,12.48],"nice":false,"zero":false,"reverse":true},"axis":{"orient":"top","title":null,"values":[0,1,2,3,4,5,6,7,8,9,10,11,12],"labelExpr":"datum.value % 2 == 0 ? datum.label : ''","labelColor":"#1f1f99","tickColor":"#1f1f99","labelPadding":5,"grid":false}},"y":{"field":"y","type":"quantitative","scale":{"domain":[-0.48,12.48],"nice":false,"zero":false,"reverse":true},"axis":{"orient":"right","title":null,"values":[0,1,2,3,4,5,6,7,8,9,10,11,12],"labelExpr":"datum.value % 2 == 0 ? datum.label : ''","labelAngle":90,"labelColor":"#1f1f99","tickColor":"#1f1f99","labelPadding":8,"grid":false}},"color":{"field":"kind","type":"nominal","scale":{"domain":["Absolute SE","Σ","sdRE","σ"],"range":["#ff6b6b","#8b0000","#4f93d0","#00007f"]},"legend":null},"shape":{"field":"kind","type":"nominal","scale":{"domain":["Absolute SE","Σ","sdRE","σ"],"range":["circle","M-1,0A1,1 0 1,1 1,0A1,1 0 1,1 -1,0ZM-1,0L1,0M0,-1L0,1","square","M-1,-1L1,-1L1,1L-1,1ZM-1,-1L1,1M1,-1L-1,1"]},"legend":null},"size":{"condition":{"test":"datum.kind == 'σ'","value":75},"value":72},"strokeWidth":{"condition":{"test":"datum.kind == 'σ'","value":2.6},"value":1.8}}},
{"transform":[{"aggregate":[{"op":"count","as":"n"}],"groupby":["dir","region"]}],"mark":{"type":"text","align":"left"},"encoding":{"x":{"datum":0.5,"type":"quantitative","scale":{"domain":[-0.48,12.48],"nice":false,"zero":false},"axis":null},"y":{"datum":11.6,"type":"quantitative","scale":{"domain":[-0.48,12.48],"nice":false,"zero":false},"axis":null},"text":{"field":"region"}}},
{"transform":[{"aggregate":[{"op":"count","as":"n"}],"groupby":["dir","region"]}],"mark":{"type":"text","align":"right"},"encoding":{"x":{"datum":11.45,"type":"quantitative","scale":{"domain":[-0.48,12.48],"nice":false,"zero":false},"axis":null},"y":{"datum":0.5,"type":"quantitative","scale":{"domain":[-0.48,12.48],"nice":false,"zero":false},"axis":null},"text":{"field":"dir"}}}
]}
]},
{"resolve":{"scale":{"color":"independent","shape":"independent"}},
"hconcat":[
{"width":268,"height":268,"transform":[{"filter":{"and":[{"field":"dir","equal":"CC"},{"field":"region","equal":"Proximal"}]}}],"resolve":{"scale":{"x":"independent","y":"independent"}},
"layer":[
{"transform":[{"aggregate":[{"op":"count","as":"n"}],"groupby":["dir","region"]}],"mark":"rule","encoding":{"x":{"datum":-0.48,"type":"quantitative","scale":{"domain":[-0.48,12.48],"nice":false,"zero":false},"axis":null},"y":{"datum":-0.48,"type":"quantitative","scale":{"domain":[-0.48,12.48],"nice":false,"zero":false},"axis":null},"x2":{"datum":12.48},"y2":{"datum":12.48}}},
{"transform":[{"filter":{"field":"kind","oneOf":["Absolute SE","Σ"]}}],"mark":"point","encoding":{"x":{"field":"x","type":"quantitative","scale":{"domain":[-0.48,12.48],"nice":false,"zero":false},"axis":{"orient":"bottom","title":null,"values":[0,4,8,12],"labels":false,"ticks":false,"grid":true}},"y":{"field":"y","type":"quantitative","scale":{"domain":[-0.48,12.48],"nice":false,"zero":false},"axis":{"orient":"left","title":null,"values":[0,1,2,3,4,5,6,7,8,9,10,11,12],"labelExpr":"datum.value % 2 == 0 ? datum.label : ''","labelAngle":270,"labelColor":"#9b1111","tickColor":"#9b1111","labelPadding":6,"grid":true,"gridOpacity":{"condition":{"test":"datum.value % 4 == 0","value":1},"value":0}}},"color":{"field":"kind","type":"nominal","scale":{"domain":["Absolute SE","Σ","sdRE","σ"],"range":["#ff6b6b","#8b0000","#4f93d0","#00007f"]},"legend":null},"shape":{"field":"kind","type":"nominal","scale":{"domain":["Absolute SE","Σ","sdRE","σ"],"range":["circle","M-1,0A1,1 0 1,1 1,0A1,1 0 1,1 -1,0ZM-1,0L1,0M0,-1L0,1","square","M-1,-1L1,-1L1,1L-1,1ZM-1,-1L1,1M1,-1L-1,1"]},"legend":null},"size":{"condition":{"test":"datum.kind == 'Σ'","value":105},"value":90},"strokeWidth":{"condition":{"test":"datum.kind == 'Σ'","value":2.6},"value":1.8}}},
{"transform":[{"filter":{"field":"kind","oneOf":["sdRE","σ"]}}],"mark":"point","encoding":{"x":{"field":"x","type":"quantitative","scale":{"domain":[-0.48,12.48],"nice":false,"zero":false,"reverse":true},"axis":null},"y":{"field":"y","type":"quantitative","scale":{"domain":[-0.48,12.48],"nice":false,"zero":false,"reverse":true},"axis":null},"color":{"field":"kind","type":"nominal","scale":{"domain":["Absolute SE","Σ","sdRE","σ"],"range":["#ff6b6b","#8b0000","#4f93d0","#00007f"]},"legend":null},"shape":{"field":"kind","type":"nominal","scale":{"domain":["Absolute SE","Σ","sdRE","σ"],"range":["circle","M-1,0A1,1 0 1,1 1,0A1,1 0 1,1 -1,0ZM-1,0L1,0M0,-1L0,1","square","M-1,-1L1,-1L1,1L-1,1ZM-1,-1L1,1M1,-1L-1,1"]},"legend":null},"size":{"condition":{"test":"datum.kind == 'σ'","value":75},"value":72},"strokeWidth":{"condition":{"test":"datum.kind == 'σ'","value":2.6},"value":1.8}}},
{"transform":[{"aggregate":[{"op":"count","as":"n"}],"groupby":["dir","region"]}],"mark":{"type":"text","align":"left"},"encoding":{"x":{"datum":0.5,"type":"quantitative","scale":{"domain":[-0.48,12.48],"nice":false,"zero":false},"axis":null},"y":{"datum":11.6,"type":"quantitative","scale":{"domain":[-0.48,12.48],"nice":false,"zero":false},"axis":null},"text":{"field":"region"}}},
{"transform":[{"aggregate":[{"op":"count","as":"n"}],"groupby":["dir","region"]}],"mark":{"type":"text","align":"right"},"encoding":{"x":{"datum":11.45,"type":"quantitative","scale":{"domain":[-0.48,12.48],"nice":false,"zero":false},"axis":null},"y":{"datum":0.5,"type":"quantitative","scale":{"domain":[-0.48,12.48],"nice":false,"zero":false},"axis":null},"text":{"field":"dir"}}}
]},
{"width":268,"height":268,"transform":[{"filter":{"and":[{"field":"dir","equal":"CC"},{"field":"region","equal":"Mid-thoracic"}]}}],"resolve":{"scale":{"x":"independent","y":"independent"}},
"layer":[
{"transform":[{"aggregate":[{"op":"count","as":"n"}],"groupby":["dir","region"]}],"mark":"rule","encoding":{"x":{"datum":-0.48,"type":"quantitative","scale":{"domain":[-0.48,12.48],"nice":false,"zero":false},"axis":null},"y":{"datum":-0.48,"type":"quantitative","scale":{"domain":[-0.48,12.48],"nice":false,"zero":false},"axis":null},"x2":{"datum":12.48},"y2":{"datum":12.48}}},
{"transform":[{"filter":{"field":"kind","oneOf":["Absolute SE","Σ"]}}],"mark":"point","encoding":{"x":{"field":"x","type":"quantitative","scale":{"domain":[-0.48,12.48],"nice":false,"zero":false},"axis":{"orient":"bottom","title":null,"values":[0,4,8,12],"labels":false,"ticks":false,"grid":true}},"y":{"field":"y","type":"quantitative","scale":{"domain":[-0.48,12.48],"nice":false,"zero":false},"axis":{"orient":"left","title":null,"values":[0,4,8,12],"labels":false,"ticks":false,"grid":true}},"color":{"field":"kind","type":"nominal","scale":{"domain":["Absolute SE","Σ","sdRE","σ"],"range":["#ff6b6b","#8b0000","#4f93d0","#00007f"]},"legend":null},"shape":{"field":"kind","type":"nominal","scale":{"domain":["Absolute SE","Σ","sdRE","σ"],"range":["circle","M-1,0A1,1 0 1,1 1,0A1,1 0 1,1 -1,0ZM-1,0L1,0M0,-1L0,1","square","M-1,-1L1,-1L1,1L-1,1ZM-1,-1L1,1M1,-1L-1,1"]},"legend":null},"size":{"condition":{"test":"datum.kind == 'Σ'","value":105},"value":90},"strokeWidth":{"condition":{"test":"datum.kind == 'Σ'","value":2.6},"value":1.8}}},
{"transform":[{"filter":{"field":"kind","oneOf":["sdRE","σ"]}}],"mark":"point","encoding":{"x":{"field":"x","type":"quantitative","scale":{"domain":[-0.48,12.48],"nice":false,"zero":false,"reverse":true},"axis":null},"y":{"field":"y","type":"quantitative","scale":{"domain":[-0.48,12.48],"nice":false,"zero":false,"reverse":true},"axis":null},"color":{"field":"kind","type":"nominal","scale":{"domain":["Absolute SE","Σ","sdRE","σ"],"range":["#ff6b6b","#8b0000","#4f93d0","#00007f"]},"legend":null},"shape":{"field":"kind","type":"nominal","scale":{"domain":["Absolute SE","Σ","sdRE","σ"],"range":["circle","M-1,0A1,1 0 1,1 1,0A1,1 0 1,1 -1,0ZM-1,0L1,0M0,-1L0,1","square","M-1,-1L1,-1L1,1L-1,1ZM-1,-1L1,1M1,-1L-1,1"]},"legend":null},"size":{"condition":{"test":"datum.kind == 'σ'","value":75},"value":72},"strokeWidth":{"condition":{"test":"datum.kind == 'σ'","value":2.6},"value":1.8}}},
{"transform":[{"aggregate":[{"op":"count","as":"n"}],"groupby":["dir","region"]}],"mark":{"type":"text","align":"left"},"encoding":{"x":{"datum":0.5,"type":"quantitative","scale":{"domain":[-0.48,12.48],"nice":false,"zero":false},"axis":null},"y":{"datum":11.6,"type":"quantitative","scale":{"domain":[-0.48,12.48],"nice":false,"zero":false},"axis":null},"text":{"field":"region"}}},
{"transform":[{"aggregate":[{"op":"count","as":"n"}],"groupby":["dir","region"]}],"mark":{"type":"text","align":"right"},"encoding":{"x":{"datum":11.45,"type":"quantitative","scale":{"domain":[-0.48,12.48],"nice":false,"zero":false},"axis":null},"y":{"datum":0.5,"type":"quantitative","scale":{"domain":[-0.48,12.48],"nice":false,"zero":false},"axis":null},"text":{"field":"dir"}}}
]},
{"width":268,"height":268,"transform":[{"filter":{"and":[{"field":"dir","equal":"CC"},{"field":"region","equal":"Distal"}]}}],"resolve":{"scale":{"x":"independent","y":"independent"}},
"layer":[
{"transform":[{"aggregate":[{"op":"count","as":"n"}],"groupby":["dir","region"]}],"mark":"rule","encoding":{"x":{"datum":-0.48,"type":"quantitative","scale":{"domain":[-0.48,12.48],"nice":false,"zero":false},"axis":null},"y":{"datum":-0.48,"type":"quantitative","scale":{"domain":[-0.48,12.48],"nice":false,"zero":false},"axis":null},"x2":{"datum":12.48},"y2":{"datum":12.48}}},
{"transform":[{"filter":{"field":"kind","oneOf":["Absolute SE","Σ"]}}],"mark":"point","encoding":{"x":{"field":"x","type":"quantitative","scale":{"domain":[-0.48,12.48],"nice":false,"zero":false},"axis":{"orient":"bottom","title":null,"values":[0,4,8,12],"labels":false,"ticks":false,"grid":true}},"y":{"field":"y","type":"quantitative","scale":{"domain":[-0.48,12.48],"nice":false,"zero":false},"axis":{"orient":"left","title":null,"values":[0,4,8,12],"labels":false,"ticks":false,"grid":true}},"color":{"field":"kind","type":"nominal","scale":{"domain":["Absolute SE","Σ","sdRE","σ"],"range":["#ff6b6b","#8b0000","#4f93d0","#00007f"]},"legend":null},"shape":{"field":"kind","type":"nominal","scale":{"domain":["Absolute SE","Σ","sdRE","σ"],"range":["circle","M-1,0A1,1 0 1,1 1,0A1,1 0 1,1 -1,0ZM-1,0L1,0M0,-1L0,1","square","M-1,-1L1,-1L1,1L-1,1ZM-1,-1L1,1M1,-1L-1,1"]},"legend":null},"size":{"condition":{"test":"datum.kind == 'Σ'","value":105},"value":90},"strokeWidth":{"condition":{"test":"datum.kind == 'Σ'","value":2.6},"value":1.8}}},
{"transform":[{"filter":{"field":"kind","oneOf":["sdRE","σ"]}}],"mark":"point","encoding":{"x":{"field":"x","type":"quantitative","scale":{"domain":[-0.48,12.48],"nice":false,"zero":false,"reverse":true},"axis":null},"y":{"field":"y","type":"quantitative","scale":{"domain":[-0.48,12.48],"nice":false,"zero":false,"reverse":true},"axis":null},"color":{"field":"kind","type":"nominal","scale":{"domain":["Absolute SE","Σ","sdRE","σ"],"range":["#ff6b6b","#8b0000","#4f93d0","#00007f"]},"legend":null},"shape":{"field":"kind","type":"nominal","scale":{"domain":["Absolute SE","Σ","sdRE","σ"],"range":["circle","M-1,0A1,1 0 1,1 1,0A1,1 0 1,1 -1,0ZM-1,0L1,0M0,-1L0,1","square","M-1,-1L1,-1L1,1L-1,1ZM-1,-1L1,1M1,-1L-1,1"]},"legend":null},"size":{"condition":{"test":"datum.kind == 'σ'","value":75},"value":72},"strokeWidth":{"condition":{"test":"datum.kind == 'σ'","value":2.6},"value":1.8}}},
{"transform":[{"aggregate":[{"op":"count","as":"n"}],"groupby":["dir","region"]}],"mark":{"type":"text","align":"left"},"encoding":{"x":{"datum":0.5,"type":"quantitative","scale":{"domain":[-0.48,12.48],"nice":false,"zero":false},"axis":null},"y":{"datum":11.6,"type":"quantitative","scale":{"domain":[-0.48,12.48],"nice":false,"zero":false},"axis":null},"text":{"field":"region"}}},
{"transform":[{"aggregate":[{"op":"count","as":"n"}],"groupby":["dir","region"]}],"mark":{"type":"text","align":"right"},"encoding":{"x":{"datum":11.45,"type":"quantitative","scale":{"domain":[-0.48,12.48],"nice":false,"zero":false},"axis":null},"y":{"datum":0.5,"type":"quantitative","scale":{"domain":[-0.48,12.48],"nice":false,"zero":false},"axis":null},"text":{"field":"dir"}}}
]},
{"width":268,"height":268,"transform":[{"filter":{"and":[{"field":"dir","equal":"CC"},{"field":"region","equal":"Cardia"}]}}],"resolve":{"scale":{"x":"independent","y":"independent"}},
"layer":[
{"transform":[{"aggregate":[{"op":"count","as":"n"}],"groupby":["dir","region"]}],"mark":"rule","encoding":{"x":{"datum":-0.48,"type":"quantitative","scale":{"domain":[-0.48,12.48],"nice":false,"zero":false},"axis":null},"y":{"datum":-0.48,"type":"quantitative","scale":{"domain":[-0.48,12.48],"nice":false,"zero":false},"axis":null},"x2":{"datum":12.48},"y2":{"datum":12.48}}},
{"transform":[{"filter":{"field":"kind","oneOf":["Absolute SE","Σ"]}}],"mark":"point","encoding":{"x":{"field":"x","type":"quantitative","scale":{"domain":[-0.48,12.48],"nice":false,"zero":false},"axis":{"orient":"bottom","title":null,"values":[0,4,8,12],"labels":false,"ticks":false,"grid":true}},"y":{"field":"y","type":"quantitative","scale":{"domain":[-0.48,12.48],"nice":false,"zero":false},"axis":{"orient":"left","title":null,"values":[0,4,8,12],"labels":false,"ticks":false,"grid":true}},"color":{"field":"kind","type":"nominal","scale":{"domain":["Absolute SE","Σ","sdRE","σ"],"range":["#ff6b6b","#8b0000","#4f93d0","#00007f"]},"legend":null},"shape":{"field":"kind","type":"nominal","scale":{"domain":["Absolute SE","Σ","sdRE","σ"],"range":["circle","M-1,0A1,1 0 1,1 1,0A1,1 0 1,1 -1,0ZM-1,0L1,0M0,-1L0,1","square","M-1,-1L1,-1L1,1L-1,1ZM-1,-1L1,1M1,-1L-1,1"]},"legend":null},"size":{"condition":{"test":"datum.kind == 'Σ'","value":105},"value":90},"strokeWidth":{"condition":{"test":"datum.kind == 'Σ'","value":2.6},"value":1.8}}},
{"transform":[{"filter":{"field":"kind","oneOf":["sdRE","σ"]}}],"mark":"point","encoding":{"x":{"field":"x","type":"quantitative","scale":{"domain":[-0.48,12.48],"nice":false,"zero":false,"reverse":true},"axis":null},"y":{"field":"y","type":"quantitative","scale":{"domain":[-0.48,12.48],"nice":false,"zero":false,"reverse":true},"axis":{"orient":"right","title":null,"values":[0,1,2,3,4,5,6,7,8,9,10,11,12],"labelExpr":"datum.value % 2 == 0 ? datum.label : ''","labelAngle":90,"labelColor":"#1f1f99","tickColor":"#1f1f99","labelPadding":8,"grid":false}},"color":{"field":"kind","type":"nominal","scale":{"domain":["Absolute SE","Σ","sdRE","σ"],"range":["#ff6b6b","#8b0000","#4f93d0","#00007f"]},"legend":null},"shape":{"field":"kind","type":"nominal","scale":{"domain":["Absolute SE","Σ","sdRE","σ"],"range":["circle","M-1,0A1,1 0 1,1 1,0A1,1 0 1,1 -1,0ZM-1,0L1,0M0,-1L0,1","square","M-1,-1L1,-1L1,1L-1,1ZM-1,-1L1,1M1,-1L-1,1"]},"legend":null},"size":{"condition":{"test":"datum.kind == 'σ'","value":75},"value":72},"strokeWidth":{"condition":{"test":"datum.kind == 'σ'","value":2.6},"value":1.8}}},
{"transform":[{"aggregate":[{"op":"count","as":"n"}],"groupby":["dir","region"]}],"mark":{"type":"text","align":"left"},"encoding":{"x":{"datum":0.5,"type":"quantitative","scale":{"domain":[-0.48,12.48],"nice":false,"zero":false},"axis":null},"y":{"datum":11.6,"type":"quantitative","scale":{"domain":[-0.48,12.48],"nice":false,"zero":false},"axis":null},"text":{"field":"region"}}},
{"transform":[{"aggregate":[{"op":"count","as":"n"}],"groupby":["dir","region"]}],"mark":{"type":"text","align":"right"},"encoding":{"x":{"datum":11.45,"type":"quantitative","scale":{"domain":[-0.48,12.48],"nice":false,"zero":false},"axis":null},"y":{"datum":0.5,"type":"quantitative","scale":{"domain":[-0.48,12.48],"nice":false,"zero":false},"axis":null},"text":{"field":"dir"}}}
]}
]},
{"title":{"text":"Absolute SE and Σ of marker position relative to bony anatomy [mm]","orient":"bottom","anchor":"middle","color":"#9b1111","offset":13},
"resolve":{"scale":{"color":"independent","shape":"independent"}},
"hconcat":[
{"width":268,"height":268,"transform":[{"filter":{"and":[{"field":"dir","equal":"AP"},{"field":"region","equal":"Proximal"}]}}],"resolve":{"scale":{"x":"independent","y":"independent"}},
"layer":[
{"transform":[{"aggregate":[{"op":"count","as":"n"}],"groupby":["dir","region"]}],"mark":"rule","encoding":{"x":{"datum":-0.48,"type":"quantitative","scale":{"domain":[-0.48,12.48],"nice":false,"zero":false},"axis":null},"y":{"datum":-0.48,"type":"quantitative","scale":{"domain":[-0.48,12.48],"nice":false,"zero":false},"axis":null},"x2":{"datum":12.48},"y2":{"datum":12.48}}},
{"transform":[{"filter":{"field":"kind","oneOf":["Absolute SE","Σ"]}}],"mark":"point","encoding":{"x":{"field":"x","type":"quantitative","scale":{"domain":[-0.48,12.48],"nice":false,"zero":false},"axis":{"orient":"bottom","title":null,"values":[0,1,2,3,4,5,6,7,8,9,10,11,12],"labelExpr":"datum.value % 2 == 0 ? datum.label : ''","labelColor":"#9b1111","tickColor":"#9b1111","labelPadding":8,"grid":true,"gridOpacity":{"condition":{"test":"datum.value % 4 == 0","value":1},"value":0}}},"y":{"field":"y","type":"quantitative","scale":{"domain":[-0.48,12.48],"nice":false,"zero":false},"axis":{"orient":"left","title":null,"values":[0,1,2,3,4,5,6,7,8,9,10,11,12],"labelExpr":"datum.value % 2 == 0 ? datum.label : ''","labelAngle":270,"labelColor":"#9b1111","tickColor":"#9b1111","labelPadding":6,"grid":true,"gridOpacity":{"condition":{"test":"datum.value % 4 == 0","value":1},"value":0}}},"color":{"field":"kind","type":"nominal","scale":{"domain":["Absolute SE","Σ","sdRE","σ"],"range":["#ff6b6b","#8b0000","#4f93d0","#00007f"]},"legend":null},"shape":{"field":"kind","type":"nominal","scale":{"domain":["Absolute SE","Σ","sdRE","σ"],"range":["circle","M-1,0A1,1 0 1,1 1,0A1,1 0 1,1 -1,0ZM-1,0L1,0M0,-1L0,1","square","M-1,-1L1,-1L1,1L-1,1ZM-1,-1L1,1M1,-1L-1,1"]},"legend":null},"size":{"condition":{"test":"datum.kind == 'Σ'","value":105},"value":90},"strokeWidth":{"condition":{"test":"datum.kind == 'Σ'","value":2.6},"value":1.8}}},
{"transform":[{"filter":{"field":"kind","oneOf":["sdRE","σ"]}}],"mark":"point","encoding":{"x":{"field":"x","type":"quantitative","scale":{"domain":[-0.48,12.48],"nice":false,"zero":false,"reverse":true},"axis":null},"y":{"field":"y","type":"quantitative","scale":{"domain":[-0.48,12.48],"nice":false,"zero":false,"reverse":true},"axis":null},"color":{"field":"kind","type":"nominal","scale":{"domain":["Absolute SE","Σ","sdRE","σ"],"range":["#ff6b6b","#8b0000","#4f93d0","#00007f"]},"legend":null},"shape":{"field":"kind","type":"nominal","scale":{"domain":["Absolute SE","Σ","sdRE","σ"],"range":["circle","M-1,0A1,1 0 1,1 1,0A1,1 0 1,1 -1,0ZM-1,0L1,0M0,-1L0,1","square","M-1,-1L1,-1L1,1L-1,1ZM-1,-1L1,1M1,-1L-1,1"]},"legend":null},"size":{"condition":{"test":"datum.kind == 'σ'","value":75},"value":72},"strokeWidth":{"condition":{"test":"datum.kind == 'σ'","value":2.6},"value":1.8}}},
{"transform":[{"aggregate":[{"op":"count","as":"n"}],"groupby":["dir","region"]}],"mark":{"type":"text","align":"left"},"encoding":{"x":{"datum":0.5,"type":"quantitative","scale":{"domain":[-0.48,12.48],"nice":false,"zero":false},"axis":null},"y":{"datum":11.6,"type":"quantitative","scale":{"domain":[-0.48,12.48],"nice":false,"zero":false},"axis":null},"text":{"field":"region"}}},
{"transform":[{"aggregate":[{"op":"count","as":"n"}],"groupby":["dir","region"]}],"mark":{"type":"text","align":"right"},"encoding":{"x":{"datum":11.45,"type":"quantitative","scale":{"domain":[-0.48,12.48],"nice":false,"zero":false},"axis":null},"y":{"datum":0.5,"type":"quantitative","scale":{"domain":[-0.48,12.48],"nice":false,"zero":false},"axis":null},"text":{"field":"dir"}}}
]},
{"width":268,"height":268,"transform":[{"filter":{"and":[{"field":"dir","equal":"AP"},{"field":"region","equal":"Mid-thoracic"}]}}],"resolve":{"scale":{"x":"independent","y":"independent"}},
"layer":[
{"transform":[{"aggregate":[{"op":"count","as":"n"}],"groupby":["dir","region"]}],"mark":"rule","encoding":{"x":{"datum":-0.48,"type":"quantitative","scale":{"domain":[-0.48,12.48],"nice":false,"zero":false},"axis":null},"y":{"datum":-0.48,"type":"quantitative","scale":{"domain":[-0.48,12.48],"nice":false,"zero":false},"axis":null},"x2":{"datum":12.48},"y2":{"datum":12.48}}},
{"transform":[{"filter":{"field":"kind","oneOf":["Absolute SE","Σ"]}}],"mark":"point","encoding":{"x":{"field":"x","type":"quantitative","scale":{"domain":[-0.48,12.48],"nice":false,"zero":false},"axis":{"orient":"bottom","title":null,"values":[0,1,2,3,4,5,6,7,8,9,10,11,12],"labelExpr":"datum.value % 2 == 0 ? datum.label : ''","labelColor":"#9b1111","tickColor":"#9b1111","labelPadding":8,"grid":true,"gridOpacity":{"condition":{"test":"datum.value % 4 == 0","value":1},"value":0}}},"y":{"field":"y","type":"quantitative","scale":{"domain":[-0.48,12.48],"nice":false,"zero":false},"axis":{"orient":"left","title":null,"values":[0,4,8,12],"labels":false,"ticks":false,"grid":true}},"color":{"field":"kind","type":"nominal","scale":{"domain":["Absolute SE","Σ","sdRE","σ"],"range":["#ff6b6b","#8b0000","#4f93d0","#00007f"]},"legend":null},"shape":{"field":"kind","type":"nominal","scale":{"domain":["Absolute SE","Σ","sdRE","σ"],"range":["circle","M-1,0A1,1 0 1,1 1,0A1,1 0 1,1 -1,0ZM-1,0L1,0M0,-1L0,1","square","M-1,-1L1,-1L1,1L-1,1ZM-1,-1L1,1M1,-1L-1,1"]},"legend":null},"size":{"condition":{"test":"datum.kind == 'Σ'","value":105},"value":90},"strokeWidth":{"condition":{"test":"datum.kind == 'Σ'","value":2.6},"value":1.8}}},
{"transform":[{"filter":{"field":"kind","oneOf":["sdRE","σ"]}}],"mark":"point","encoding":{"x":{"field":"x","type":"quantitative","scale":{"domain":[-0.48,12.48],"nice":false,"zero":false,"reverse":true},"axis":null},"y":{"field":"y","type":"quantitative","scale":{"domain":[-0.48,12.48],"nice":false,"zero":false,"reverse":true},"axis":null},"color":{"field":"kind","type":"nominal","scale":{"domain":["Absolute SE","Σ","sdRE","σ"],"range":["#ff6b6b","#8b0000","#4f93d0","#00007f"]},"legend":null},"shape":{"field":"kind","type":"nominal","scale":{"domain":["Absolute SE","Σ","sdRE","σ"],"range":["circle","M-1,0A1,1 0 1,1 1,0A1,1 0 1,1 -1,0ZM-1,0L1,0M0,-1L0,1","square","M-1,-1L1,-1L1,1L-1,1ZM-1,-1L1,1M1,-1L-1,1"]},"legend":null},"size":{"condition":{"test":"datum.kind == 'σ'","value":75},"value":72},"strokeWidth":{"condition":{"test":"datum.kind == 'σ'","value":2.6},"value":1.8}}},
{"transform":[{"aggregate":[{"op":"count","as":"n"}],"groupby":["dir","region"]}],"mark":{"type":"text","align":"left"},"encoding":{"x":{"datum":0.5,"type":"quantitative","scale":{"domain":[-0.48,12.48],"nice":false,"zero":false},"axis":null},"y":{"datum":11.6,"type":"quantitative","scale":{"domain":[-0.48,12.48],"nice":false,"zero":false},"axis":null},"text":{"field":"region"}}},
{"transform":[{"aggregate":[{"op":"count","as":"n"}],"groupby":["dir","region"]}],"mark":{"type":"text","align":"right"},"encoding":{"x":{"datum":11.45,"type":"quantitative","scale":{"domain":[-0.48,12.48],"nice":false,"zero":false},"axis":null},"y":{"datum":0.5,"type":"quantitative","scale":{"domain":[-0.48,12.48],"nice":false,"zero":false},"axis":null},"text":{"field":"dir"}}}
]},
{"width":268,"height":268,"transform":[{"filter":{"and":[{"field":"dir","equal":"AP"},{"field":"region","equal":"Distal"}]}}],"resolve":{"scale":{"x":"independent","y":"independent"}},
"layer":[
{"transform":[{"aggregate":[{"op":"count","as":"n"}],"groupby":["dir","region"]}],"mark":"rule","encoding":{"x":{"datum":-0.48,"type":"quantitative","scale":{"domain":[-0.48,12.48],"nice":false,"zero":false},"axis":null},"y":{"datum":-0.48,"type":"quantitative","scale":{"domain":[-0.48,12.48],"nice":false,"zero":false},"axis":null},"x2":{"datum":12.48},"y2":{"datum":12.48}}},
{"transform":[{"filter":{"field":"kind","oneOf":["Absolute SE","Σ"]}}],"mark":"point","encoding":{"x":{"field":"x","type":"quantitative","scale":{"domain":[-0.48,12.48],"nice":false,"zero":false},"axis":{"orient":"bottom","title":null,"values":[0,1,2,3,4,5,6,7,8,9,10,11,12],"labelExpr":"datum.value % 2 == 0 ? datum.label : ''","labelColor":"#9b1111","tickColor":"#9b1111","labelPadding":8,"grid":true,"gridOpacity":{"condition":{"test":"datum.value % 4 == 0","value":1},"value":0}}},"y":{"field":"y","type":"quantitative","scale":{"domain":[-0.48,12.48],"nice":false,"zero":false},"axis":{"orient":"left","title":null,"values":[0,4,8,12],"labels":false,"ticks":false,"grid":true}},"color":{"field":"kind","type":"nominal","scale":{"domain":["Absolute SE","Σ","sdRE","σ"],"range":["#ff6b6b","#8b0000","#4f93d0","#00007f"]},"legend":null},"shape":{"field":"kind","type":"nominal","scale":{"domain":["Absolute SE","Σ","sdRE","σ"],"range":["circle","M-1,0A1,1 0 1,1 1,0A1,1 0 1,1 -1,0ZM-1,0L1,0M0,-1L0,1","square","M-1,-1L1,-1L1,1L-1,1ZM-1,-1L1,1M1,-1L-1,1"]},"legend":null},"size":{"condition":{"test":"datum.kind == 'Σ'","value":105},"value":90},"strokeWidth":{"condition":{"test":"datum.kind == 'Σ'","value":2.6},"value":1.8}}},
{"transform":[{"filter":{"field":"kind","oneOf":["sdRE","σ"]}}],"mark":"point","encoding":{"x":{"field":"x","type":"quantitative","scale":{"domain":[-0.48,12.48],"nice":false,"zero":false,"reverse":true},"axis":null},"y":{"field":"y","type":"quantitative","scale":{"domain":[-0.48,12.48],"nice":false,"zero":false,"reverse":true},"axis":null},"color":{"field":"kind","type":"nominal","scale":{"domain":["Absolute SE","Σ","sdRE","σ"],"range":["#ff6b6b","#8b0000","#4f93d0","#00007f"]},"legend":null},"shape":{"field":"kind","type":"nominal","scale":{"domain":["Absolute SE","Σ","sdRE","σ"],"range":["circle","M-1,0A1,1 0 1,1 1,0A1,1 0 1,1 -1,0ZM-1,0L1,0M0,-1L0,1","square","M-1,-1L1,-1L1,1L-1,1ZM-1,-1L1,1M1,-1L-1,1"]},"legend":null},"size":{"condition":{"test":"datum.kind == 'σ'","value":75},"value":72},"strokeWidth":{"condition":{"test":"datum.kind == 'σ'","value":2.6},"value":1.8}}},
{"transform":[{"aggregate":[{"op":"count","as":"n"}],"groupby":["dir","region"]}],"mark":{"type":"text","align":"left"},"encoding":{"x":{"datum":0.5,"type":"quantitative","scale":{"domain":[-0.48,12.48],"nice":false,"zero":false},"axis":null},"y":{"datum":11.6,"type":"quantitative","scale":{"domain":[-0.48,12.48],"nice":false,"zero":false},"axis":null},"text":{"field":"region"}}},
{"transform":[{"aggregate":[{"op":"count","as":"n"}],"groupby":["dir","region"]}],"mark":{"type":"text","align":"right"},"encoding":{"x":{"datum":11.45,"type":"quantitative","scale":{"domain":[-0.48,12.48],"nice":false,"zero":false},"axis":null},"y":{"datum":0.5,"type":"quantitative","scale":{"domain":[-0.48,12.48],"nice":false,"zero":false},"axis":null},"text":{"field":"dir"}}}
]},
{"width":268,"height":268,"transform":[{"filter":{"and":[{"field":"dir","equal":"AP"},{"field":"region","equal":"Cardia"}]}}],"resolve":{"scale":{"x":"independent","y":"independent"}},
"layer":[
{"transform":[{"aggregate":[{"op":"count","as":"n"}],"groupby":["dir","region"]}],"mark":"rule","encoding":{"x":{"datum":-0.48,"type":"quantitative","scale":{"domain":[-0.48,12.48],"nice":false,"zero":false},"axis":null},"y":{"datum":-0.48,"type":"quantitative","scale":{"domain":[-0.48,12.48],"nice":false,"zero":false},"axis":null},"x2":{"datum":12.48},"y2":{"datum":12.48}}},
{"transform":[{"filter":{"field":"kind","oneOf":["Absolute SE","Σ"]}}],"mark":"point","encoding":{"x":{"field":"x","type":"quantitative","scale":{"domain":[-0.48,12.48],"nice":false,"zero":false},"axis":{"orient":"bottom","title":null,"values":[0,1,2,3,4,5,6,7,8,9,10,11,12],"labelExpr":"datum.value % 2 == 0 ? datum.label : ''","labelColor":"#9b1111","tickColor":"#9b1111","labelPadding":8,"grid":true,"gridOpacity":{"condition":{"test":"datum.value % 4 == 0","value":1},"value":0}}},"y":{"field":"y","type":"quantitative","scale":{"domain":[-0.48,12.48],"nice":false,"zero":false},"axis":{"orient":"left","title":null,"values":[0,4,8,12],"labels":false,"ticks":false,"grid":true}},"color":{"field":"kind","type":"nominal","scale":{"domain":["Absolute SE","Σ","sdRE","σ"],"range":["#ff6b6b","#8b0000","#4f93d0","#00007f"]},"legend":null},"shape":{"field":"kind","type":"nominal","scale":{"domain":["Absolute SE","Σ","sdRE","σ"],"range":["circle","M-1,0A1,1 0 1,1 1,0A1,1 0 1,1 -1,0ZM-1,0L1,0M0,-1L0,1","square","M-1,-1L1,-1L1,1L-1,1ZM-1,-1L1,1M1,-1L-1,1"]},"legend":null},"size":{"condition":{"test":"datum.kind == 'Σ'","value":105},"value":90},"strokeWidth":{"condition":{"test":"datum.kind == 'Σ'","value":2.6},"value":1.8}}},
{"transform":[{"filter":{"field":"kind","oneOf":["sdRE","σ"]}}],"mark":"point","encoding":{"x":{"field":"x","type":"quantitative","scale":{"domain":[-0.48,12.48],"nice":false,"zero":false,"reverse":true},"axis":null},"y":{"field":"y","type":"quantitative","scale":{"domain":[-0.48,12.48],"nice":false,"zero":false,"reverse":true},"axis":{"orient":"right","title":null,"values":[0,1,2,3,4,5,6,7,8,9,10,11,12],"labelExpr":"datum.value % 2 == 0 ? datum.label : ''","labelAngle":90,"labelColor":"#1f1f99","tickColor":"#1f1f99","labelPadding":8,"grid":false}},"color":{"field":"kind","type":"nominal","scale":{"domain":["Absolute SE","Σ","sdRE","σ"],"range":["#ff6b6b","#8b0000","#4f93d0","#00007f"]},"legend":null},"shape":{"field":"kind","type":"nominal","scale":{"domain":["Absolute SE","Σ","sdRE","σ"],"range":["circle","M-1,0A1,1 0 1,1 1,0A1,1 0 1,1 -1,0ZM-1,0L1,0M0,-1L0,1","square","M-1,-1L1,-1L1,1L-1,1ZM-1,-1L1,1M1,-1L-1,1"]},"legend":null},"size":{"condition":{"test":"datum.kind == 'σ'","value":75},"value":72},"strokeWidth":{"condition":{"test":"datum.kind == 'σ'","value":2.6},"value":1.8}}},
{"transform":[{"aggregate":[{"op":"count","as":"n"}],"groupby":["dir","region"]}],"mark":{"type":"text","align":"left"},"encoding":{"x":{"datum":0.5,"type":"quantitative","scale":{"domain":[-0.48,12.48],"nice":false,"zero":false},"axis":null},"y":{"datum":11.6,"type":"quantitative","scale":{"domain":[-0.48,12.48],"nice":false,"zero":false},"axis":null},"text":{"field":"region"}}},
{"transform":[{"aggregate":[{"op":"count","as":"n"}],"groupby":["dir","region"]}],"mark":{"type":"text","align":"right"},"encoding":{"x":{"datum":11.45,"type":"quantitative","scale":{"domain":[-0.48,12.48],"nice":false,"zero":false},"axis":null},"y":{"datum":0.5,"type":"quantitative","scale":{"domain":[-0.48,12.48],"nice":false,"zero":false},"axis":null},"text":{"field":"dir"}}}
]}
]}
]}]}]}
